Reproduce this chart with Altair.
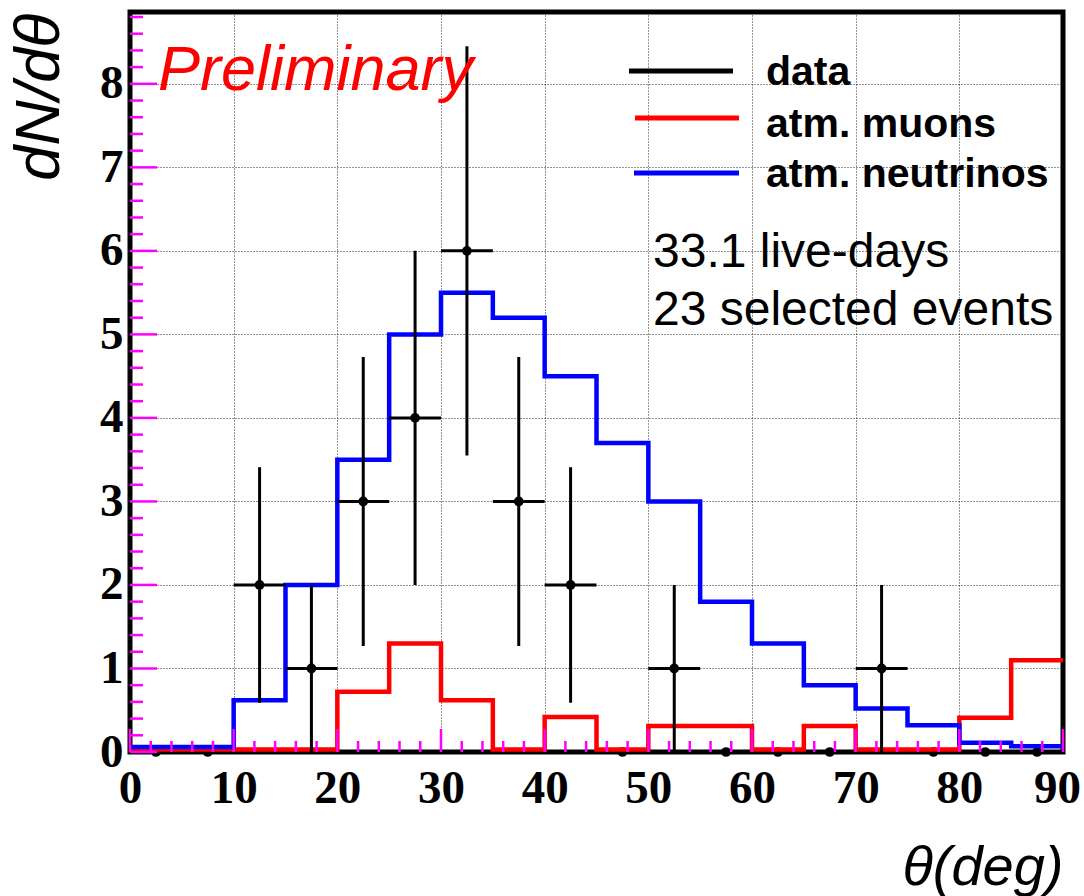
import altair as alt
import pandas as pd

# Zenith-angle distribution: 5-degree bins from 0 to 90
bin_lo = list(range(0, 90, 5))
bin_width = 5

# Monte Carlo expectations (events per bin)
neutrinos = [0.06, 0.06, 0.62, 2.0, 3.5, 5.0, 5.5, 5.2, 4.5, 3.7,
             3.0, 1.8, 1.3, 0.8, 0.52, 0.32, 0.11, 0.07]
muons = [0.03, 0.03, 0.03, 0.03, 0.72, 1.3, 0.62, 0.03, 0.42, 0.03,
         0.31, 0.31, 0.03, 0.31, 0.03, 0.03, 0.41, 1.1]

# Observed events and their statistical errors
counts = [0, 0, 2, 1, 3, 4, 6, 3, 2, 0, 1, 0, 0, 0, 1, 0, 0, 0]
count_err = [0, 0, 1.41, 1.0, 1.73, 2.0, 2.45, 1.73, 1.41, 0,
             1.0, 0, 0, 0, 1.0, 0, 0, 0]

legend_labels = ["data", "atm. muons", "atm. neutrinos"]
legend_colors = ["black", "#ff0000", "#0000ff"]
info_lines = ["33.1 live-days", "23 selected events"]

# Axis ticks
x_major = list(range(0, 91, 10))
x_minor = [v for v in range(0, 91, 2) if v % 10]
y_major = list(range(0, 9))
y_minor = [round(0.2 * i, 1) for i in range(45) if i % 5]

W, H = 933, 740
X_MAX = 90
Y_MAX = 8.86

xscale = alt.Scale(domain=[0, X_MAX], nice=False, zero=False)
yscale = alt.Scale(domain=[0, Y_MAX], nice=False, zero=False)

grid_style = dict(grid=True, gridColor="black", gridDash=[1, 2], gridWidth=1,
                  gridOpacity=0.85, ticks=False, tickSize=0, domain=False,
                  labelFont="Liberation Serif", labelFontWeight="bold",
                  labelFontSize=47, labelColor="black", labelFlush=False,
                  labelOverlap=False, titleFont="Liberation Sans",
                  titleFontStyle="italic", titleFontWeight="normal",
                  titleColor="black")

xaxis = alt.Axis(values=x_major, format="d", labelPadding=50,
                 labelBaseline="alphabetic",
                 labelOffset={"condition": {"test": "datum.value == 90", "value": -6},
                              "value": 0},
                 title="θ(deg)", titleFontSize=56,
                 titleX=W, titleY=132, titleAlign="right",
                 titleBaseline="alphabetic", **grid_style)
yaxis = alt.Axis(values=y_major, format="d", labelPadding=7,
                 labelBaseline="middle", title="dN/dθ", titleFontSize=63,
                 titleAngle=270, titleX=-72, titleY=1, titleAlign="right",
                 titleBaseline="alphabetic", **grid_style)


def X(field):
    return alt.X(f"{field}:Q", scale=xscale, axis=xaxis)


def Y(field):
    return alt.Y(f"{field}:Q", scale=yscale, axis=yaxis)


data_df = pd.DataFrame({
    "lo": bin_lo,
    "hi": [b + bin_width for b in bin_lo],
    "center": [b + bin_width / 2 for b in bin_lo],
    "count": counts,
    "err_lo": [c - e for c, e in zip(counts, count_err)],
    "err_hi": [c + e for c, e in zip(counts, count_err)],
})


def step_frame(values):
    # step-after outline: one point per lower edge plus the closing edge
    return pd.DataFrame({"edge": bin_lo + [bin_lo[-1] + bin_width],
                         "value": values + [values[-1]]})


points = alt.Chart(data_df).mark_circle(size=95, color="black", opacity=1).encode(
    x=X("center"), y=Y("count"))

muon_line = alt.Chart(step_frame(muons)).mark_line(
    interpolate="step-after", color="#ff0000", strokeWidth=4.5).encode(
    x=X("edge"), y=Y("value"))

nu_line = alt.Chart(step_frame(neutrinos)).mark_line(
    interpolate="step-after", color="#0000ff", strokeWidth=4.5).encode(
    x=X("edge"), y=Y("value"))

nonzero = data_df[data_df["count"] > 0]
err_v = alt.Chart(nonzero).mark_rule(color="black", strokeWidth=3).encode(
    x=X("center"), y=Y("err_lo"), y2="err_hi:Q")
err_h = alt.Chart(nonzero).mark_rule(color="black", strokeWidth=3).encode(
    x=X("lo"), x2="hi:Q", y=Y("count"))

TICK_COLOR = "magenta"


# inward ticks along the bottom and left frame; tick lengths in pixels
# are converted to data units so the rules share the chart scales
def x_ticks(values, px):
    df = pd.DataFrame({"v": values, "base": 0.0, "tip": px * Y_MAX / H})
    return alt.Chart(df).mark_rule(color=TICK_COLOR, strokeWidth=2.5).encode(
        x=X("v"), y=Y("base"), y2="tip:Q")


def y_ticks(values, px):
    df = pd.DataFrame({"v": values, "base": 0.0, "tip": px * X_MAX / W})
    return alt.Chart(df).mark_rule(color=TICK_COLOR, strokeWidth=2.5).encode(
        y=Y("v"), x=X("base"), x2="tip:Q")


tick_layers = [x_ticks(x_major, 23), x_ticks(x_minor, 11),
               y_ticks(y_major, 27), y_ticks(y_minor, 13)]

# hand-placed legend
legend_line_y = [59, 106, 161]
legend_line_x = [(499, 603), (505, 609), (504, 609)]
legend_text_y = [73, 125, 175]
legend_layers = []
for i, (lab, col) in enumerate(zip(legend_labels, legend_colors)):
    x0, x1 = legend_line_x[i]
    legend_layers.append(
        alt.Chart(pd.DataFrame({"k": [lab]})).mark_rule(color=col, strokeWidth=5).encode(
            x=alt.value(x0), x2=alt.value(x1), y=alt.value(legend_line_y[i])))
    legend_layers.append(
        alt.Chart(pd.DataFrame({"t": [lab]})).mark_text(
            font="Liberation Sans", fontWeight="bold", fontSize=41, color="black",
            align="left", baseline="alphabetic").encode(
            x=alt.value(636), y=alt.value(legend_text_y[i]), text="t:N"))

info_y = [255, 313]
info_layers = [
    alt.Chart(pd.DataFrame({"t": [line]})).mark_text(
        font="Liberation Sans", fontSize=48, color="black",
        align="left", baseline="alphabetic").encode(
        x=alt.value(523), y=alt.value(yy), text="t:N")
    for line, yy in zip(info_lines, info_y)
]

prelim = alt.Chart(pd.DataFrame({"t": ["Preliminary"]})).mark_text(
    font="Liberation Sans", fontStyle="italic", fontSize=63, color="#ff0000",
    align="left", baseline="alphabetic").encode(
    x=alt.value(28), y=alt.value(78), text="t:N")

chart = alt.layer(
    points, muon_line, nu_line, err_v, err_h,
    *legend_layers, *info_layers, prelim, *tick_layers,
).properties(
    width=W, height=H,
    autosize=alt.AutoSizeParams(type="none"),
    padding={"left": 130, "top": 12, "right": 21, "bottom": 144},
    background="white",
).configure_view(stroke="black", strokeWidth=5)

chart.save("out.html", embed_options={"renderer": "svg", "actions": False})
